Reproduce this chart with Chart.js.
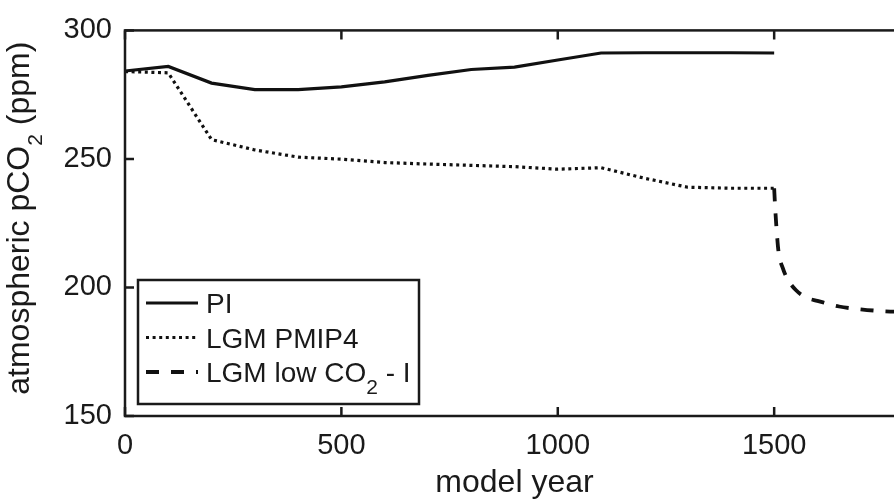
<!DOCTYPE html>
<html>
<head>
<meta charset="utf-8">
<script src="https://cdn.jsdelivr.net/npm/chart.js@4/dist/chart.umd.min.js"></script>
<style>
  html, body { margin: 0; padding: 0; background: #fff; overflow: hidden; width: 894px; height: 499px; }
  #wrap { width: 920px; height: 499px; }
</style>
</head>
<body>
<div id="wrap"><canvas id="co2Chart" width="920" height="499"></canvas></div>
<script>
// --- Data ---
const piYears = [0, 100, 200, 300, 400, 500, 600, 700, 800, 900, 1000, 1100, 1200, 1300, 1400, 1500];
const piValues = [284.2, 286, 279.5, 277, 277, 278, 280, 282.5, 284.8, 285.7, 288.5, 291.2, 291.3, 291.3, 291.3, 291.2];

const pmipYears = [0, 100, 200, 300, 400, 500, 600, 700, 800, 900, 1000, 1100, 1200, 1300, 1400, 1500];
const pmipValues = [284, 283.5, 257.5, 253.5, 250.7, 249.9, 248.6, 248, 247.5, 247, 246, 246.6, 242.5, 239, 238.6, 238.6];

const lowYears = [1500, 1502, 1505, 1510, 1520, 1530, 1550, 1575, 1600, 1650, 1700, 1750, 1800];
const lowValues = [238.6, 232, 224, 214, 207.5, 203.5, 199, 196, 194.8, 192.6, 191.5, 190.8, 190.5];

const xTicks = [0, 500, 1000, 1500];
const yTicks = [150, 200, 250, 300];

const FONT = '"Liberation Sans", Arial, Helvetica, sans-serif';
const INK = '#1a1a1a';

const toPoints = (xs, ys) => xs.map((x, i) => ({ x: x, y: ys[i] }));

// --- Frame, inward ticks, axis titles and legend ---
const framePlugin = {
    id: 'frame',
    afterDraw(chart) {
        const ctx = chart.ctx;
        const a = chart.chartArea;
        const xs = chart.scales.x, ys = chart.scales.y;
        ctx.save();
        ctx.strokeStyle = INK;
        ctx.lineWidth = 2.5;
        ctx.strokeRect(a.left, a.top, a.right - a.left, a.bottom - a.top);

        // inward tick marks
        ctx.beginPath();
        xTicks.forEach(v => {
            const px = xs.getPixelForValue(v);
            ctx.moveTo(px, a.bottom); ctx.lineTo(px, a.bottom - 9);
            ctx.moveTo(px, a.top); ctx.lineTo(px, a.top + 9);
        });
        yTicks.forEach(v => {
            const py = ys.getPixelForValue(v);
            ctx.moveTo(a.left, py); ctx.lineTo(a.left + 9, py);
            ctx.moveTo(a.right, py); ctx.lineTo(a.right - 9, py);
        });
        ctx.stroke();

        ctx.fillStyle = INK;

        // x axis title
        ctx.font = '32px ' + FONT;
        ctx.textAlign = 'center';
        ctx.textBaseline = 'alphabetic';
        ctx.fillText('model year', (a.left + a.right) / 2, 492);

        // y axis title with subscript
        drawSubText(ctx, 29, (a.top + a.bottom) / 2 - 5, -Math.PI / 2,
            ['atmospheric pCO', '2', ' (ppm)'], 32, 21, 13);

        // legend box
        const box = { x: 138, y: 280, w: 281, h: 124 };
        ctx.fillStyle = '#fff';
        ctx.fillRect(box.x, box.y, box.w, box.h);
        ctx.strokeStyle = INK;
        ctx.lineWidth = 2.5;
        ctx.strokeRect(box.x, box.y, box.w, box.h);

        const rows = [
            ['PI'],
            ['LGM PMIP4'],
            ['LGM low CO', '2', ' - I']
        ];
        chart.data.datasets.forEach((ds, i) => {
            const cy = box.y + 23 + i * 34.5;
            ctx.save();
            ctx.strokeStyle = ds.borderColor;
            ctx.lineWidth = ds.borderWidth;
            ctx.setLineDash(ds.borderDash || []);
            ctx.beginPath();
            ctx.moveTo(box.x + 8, cy);
            ctx.lineTo(box.x + 60, cy);
            ctx.stroke();
            ctx.restore();
            ctx.fillStyle = INK;
            drawSubText(ctx, box.x + 68, cy + 10, 0, rows[i], 28, 21, 12, 'left');
        });
        ctx.restore();
    }
};

// draws [main, sub, main] pieces, centred (or left aligned) at x,y, rotated by angle
function drawSubText(ctx, x, y, angle, parts, size, subSize, subDrop, align) {
    ctx.save();
    ctx.translate(x, y);
    ctx.rotate(angle);
    ctx.textBaseline = 'alphabetic';
    ctx.textAlign = 'left';
    const fonts = parts.map((_, i) => (i === 1 ? subSize : size) + 'px ' + FONT);
    const widths = parts.map((p, i) => { ctx.font = fonts[i]; return ctx.measureText(p).width; });
    const total = widths.reduce((s, w) => s + w, 0);
    let cx = align === 'left' ? 0 : -total / 2;
    parts.forEach((p, i) => {
        ctx.font = fonts[i];
        ctx.fillText(p, cx, i === 1 ? subDrop : 0);
        cx += widths[i];
    });
    ctx.restore();
}

new Chart(document.getElementById('co2Chart'), {
    type: 'line',
    data: {
        datasets: [
            {
                label: 'PI', data: toPoints(piYears, piValues),
                borderColor: '#111', borderWidth: 3.2, pointRadius: 0, tension: 0
            },
            {
                label: 'LGM PMIP4', data: toPoints(pmipYears, pmipValues),
                borderColor: '#111', borderWidth: 3.2, borderDash: [3, 3.6], pointRadius: 0, tension: 0
            },
            {
                label: 'LGM low CO2 - I', data: toPoints(lowYears, lowValues),
                borderColor: '#111', borderWidth: 3.8, borderDash: [13, 12], pointRadius: 0,
                cubicInterpolationMode: 'monotone'
            }
        ]
    },
    options: {
        responsive: false,
        animation: false,
        devicePixelRatio: 1,
        layout: { padding: { left: 0, top: 26, right: 16, bottom: 0 } },
        plugins: { legend: { display: false }, tooltip: { enabled: false } },
        scales: {
            x: {
                type: 'linear', min: 0, max: 1800,
                grid: { display: false, drawTicks: false },
                border: { display: false },
                afterBuildTicks: s => { s.ticks = xTicks.map(v => ({ value: v })); },
                afterFit: s => { s.height = 83; },
                ticks: { color: INK, padding: 13, font: { family: FONT, size: 29 }, callback: v => String(v) }
            },
            y: {
                min: 150, max: 300,
                grid: { display: false, drawTicks: false },
                border: { display: false },
                afterBuildTicks: s => { s.ticks = yTicks.map(v => ({ value: v })); },
                afterFit: s => { s.width = 125; },
                ticks: { color: INK, padding: 13, font: { family: FONT, size: 29 }, callback: v => String(v) }
            }
        }
    },
    plugins: [framePlugin]
});
</script>
</body>
</html>
